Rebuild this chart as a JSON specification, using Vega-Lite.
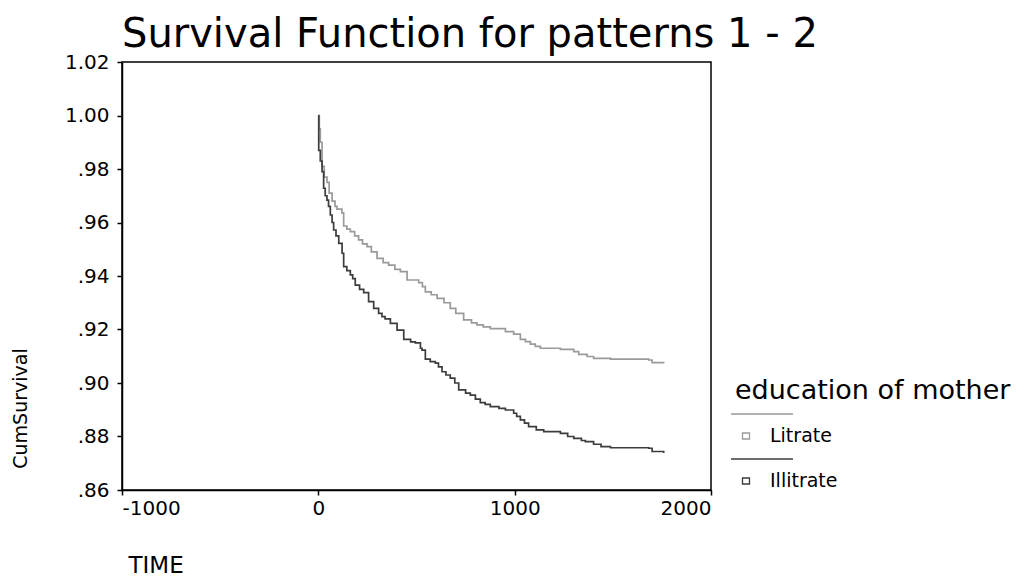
{
  "$schema": "https://vega.github.io/schema/vega-lite/v6.json",
  "width": 589,
  "height": 428,
  "autosize": {"type": "none"},
  "padding": {"left": 122, "top": 62, "right": 315, "bottom": 88},
  "background": "white",
  "title": {
    "text": "Survival Function for patterns 1 - 2",
    "anchor": "start",
    "frame": "group",
    "font": "DejaVu Sans",
    "fontSize": 40,
    "fontWeight": "normal",
    "color": "black",
    "offset": -3
  },
  "config": {
    "view": {"stroke": "black", "strokeWidth": 1.5},
    "axis": {
      "labelFont": "DejaVu Sans",
      "labelFontSize": 20,
      "labelColor": "black",
      "titleFont": "DejaVu Sans",
      "titleFontWeight": "normal",
      "titleColor": "black",
      "domainColor": "black",
      "domainWidth": 1.5,
      "tickColor": "black",
      "tickWidth": 1.5,
      "tickSize": 5,
      "grid": false
    }
  },
  "data": {
    "values": [
      {"time": 0, "surv": 1.0, "group": "Litrate"},
      {"time": 5, "surv": 0.995, "group": "Litrate"},
      {"time": 10, "surv": 0.990, "group": "Litrate"},
      {"time": 19, "surv": 0.981, "group": "Litrate"},
      {"time": 30, "surv": 0.977, "group": "Litrate"},
      {"time": 44, "surv": 0.975, "group": "Litrate"},
      {"time": 55, "surv": 0.971, "group": "Litrate"},
      {"time": 70, "surv": 0.968, "group": "Litrate"},
      {"time": 85, "surv": 0.966, "group": "Litrate"},
      {"time": 95, "surv": 0.965, "group": "Litrate"},
      {"time": 120, "surv": 0.9636, "group": "Litrate"},
      {"time": 129, "surv": 0.9587, "group": "Litrate"},
      {"time": 145, "surv": 0.9575, "group": "Litrate"},
      {"time": 163, "surv": 0.9566, "group": "Litrate"},
      {"time": 185, "surv": 0.955, "group": "Litrate"},
      {"time": 205, "surv": 0.9535, "group": "Litrate"},
      {"time": 225, "surv": 0.952, "group": "Litrate"},
      {"time": 248, "surv": 0.951, "group": "Litrate"},
      {"time": 270, "surv": 0.949, "group": "Litrate"},
      {"time": 299, "surv": 0.9466, "group": "Litrate"},
      {"time": 330, "surv": 0.945, "group": "Litrate"},
      {"time": 358, "surv": 0.9441, "group": "Litrate"},
      {"time": 390, "surv": 0.9425, "group": "Litrate"},
      {"time": 418, "surv": 0.9416, "group": "Litrate"},
      {"time": 452, "surv": 0.9385, "group": "Litrate"},
      {"time": 511, "surv": 0.9375, "group": "Litrate"},
      {"time": 530, "surv": 0.936, "group": "Litrate"},
      {"time": 545, "surv": 0.9341, "group": "Litrate"},
      {"time": 575, "surv": 0.933, "group": "Litrate"},
      {"time": 605, "surv": 0.9316, "group": "Litrate"},
      {"time": 640, "surv": 0.930, "group": "Litrate"},
      {"time": 672, "surv": 0.9279, "group": "Litrate"},
      {"time": 700, "surv": 0.926, "group": "Litrate"},
      {"time": 740, "surv": 0.9236, "group": "Litrate"},
      {"time": 780, "surv": 0.9225, "group": "Litrate"},
      {"time": 808, "surv": 0.9217, "group": "Litrate"},
      {"time": 840, "surv": 0.921, "group": "Litrate"},
      {"time": 876, "surv": 0.9203, "group": "Litrate"},
      {"time": 953, "surv": 0.9192, "group": "Litrate"},
      {"time": 995, "surv": 0.9183, "group": "Litrate"},
      {"time": 1029, "surv": 0.9163, "group": "Litrate"},
      {"time": 1055, "surv": 0.9155, "group": "Litrate"},
      {"time": 1080, "surv": 0.9145, "group": "Litrate"},
      {"time": 1105, "surv": 0.9137, "group": "Litrate"},
      {"time": 1131, "surv": 0.913, "group": "Litrate"},
      {"time": 1233, "surv": 0.9126, "group": "Litrate"},
      {"time": 1301, "surv": 0.9117, "group": "Litrate"},
      {"time": 1326, "surv": 0.9107, "group": "Litrate"},
      {"time": 1369, "surv": 0.9099, "group": "Litrate"},
      {"time": 1402, "surv": 0.9092, "group": "Litrate"},
      {"time": 1488, "surv": 0.9089, "group": "Litrate"},
      {"time": 1683, "surv": 0.9086, "group": "Litrate"},
      {"time": 1700, "surv": 0.9076, "group": "Litrate"},
      {"time": 1759, "surv": 0.9074, "group": "Litrate"},
      {"time": 0, "surv": 1.0, "group": "Illitrate"},
      {"time": 2, "surv": 0.987, "group": "Illitrate"},
      {"time": 10, "surv": 0.983, "group": "Illitrate"},
      {"time": 19, "surv": 0.979, "group": "Illitrate"},
      {"time": 27, "surv": 0.9728, "group": "Illitrate"},
      {"time": 35, "surv": 0.970, "group": "Illitrate"},
      {"time": 44, "surv": 0.9684, "group": "Illitrate"},
      {"time": 52, "surv": 0.966, "group": "Illitrate"},
      {"time": 61, "surv": 0.9628, "group": "Illitrate"},
      {"time": 70, "surv": 0.960, "group": "Illitrate"},
      {"time": 78, "surv": 0.9572, "group": "Illitrate"},
      {"time": 90, "surv": 0.955, "group": "Illitrate"},
      {"time": 104, "surv": 0.9522, "group": "Illitrate"},
      {"time": 121, "surv": 0.9485, "group": "Illitrate"},
      {"time": 129, "surv": 0.9435, "group": "Illitrate"},
      {"time": 145, "surv": 0.942, "group": "Illitrate"},
      {"time": 163, "surv": 0.9404, "group": "Illitrate"},
      {"time": 175, "surv": 0.939, "group": "Illitrate"},
      {"time": 188, "surv": 0.9366, "group": "Illitrate"},
      {"time": 210, "surv": 0.935, "group": "Illitrate"},
      {"time": 231, "surv": 0.9338, "group": "Illitrate"},
      {"time": 256, "surv": 0.9304, "group": "Illitrate"},
      {"time": 282, "surv": 0.9279, "group": "Illitrate"},
      {"time": 307, "surv": 0.926, "group": "Illitrate"},
      {"time": 324, "surv": 0.9248, "group": "Illitrate"},
      {"time": 340, "surv": 0.924, "group": "Illitrate"},
      {"time": 367, "surv": 0.9223, "group": "Illitrate"},
      {"time": 401, "surv": 0.9198, "group": "Illitrate"},
      {"time": 435, "surv": 0.9163, "group": "Illitrate"},
      {"time": 470, "surv": 0.9154, "group": "Illitrate"},
      {"time": 494, "surv": 0.915, "group": "Illitrate"},
      {"time": 520, "surv": 0.913, "group": "Illitrate"},
      {"time": 528, "surv": 0.9123, "group": "Illitrate"},
      {"time": 545, "surv": 0.9089, "group": "Illitrate"},
      {"time": 570, "surv": 0.908, "group": "Illitrate"},
      {"time": 596, "surv": 0.9074, "group": "Illitrate"},
      {"time": 612, "surv": 0.906, "group": "Illitrate"},
      {"time": 630, "surv": 0.9042, "group": "Illitrate"},
      {"time": 650, "surv": 0.903, "group": "Illitrate"},
      {"time": 672, "surv": 0.9018, "group": "Illitrate"},
      {"time": 695, "surv": 0.900, "group": "Illitrate"},
      {"time": 715, "surv": 0.8974, "group": "Illitrate"},
      {"time": 750, "surv": 0.8962, "group": "Illitrate"},
      {"time": 774, "surv": 0.8955, "group": "Illitrate"},
      {"time": 800, "surv": 0.894, "group": "Illitrate"},
      {"time": 825, "surv": 0.8927, "group": "Illitrate"},
      {"time": 850, "surv": 0.892, "group": "Illitrate"},
      {"time": 876, "surv": 0.8912, "group": "Illitrate"},
      {"time": 920, "surv": 0.8905, "group": "Illitrate"},
      {"time": 953, "surv": 0.8899, "group": "Illitrate"},
      {"time": 995, "surv": 0.8887, "group": "Illitrate"},
      {"time": 1010, "surv": 0.8875, "group": "Illitrate"},
      {"time": 1029, "surv": 0.8862, "group": "Illitrate"},
      {"time": 1050, "surv": 0.885, "group": "Illitrate"},
      {"time": 1071, "surv": 0.8837, "group": "Illitrate"},
      {"time": 1110, "surv": 0.8825, "group": "Illitrate"},
      {"time": 1148, "surv": 0.8818, "group": "Illitrate"},
      {"time": 1233, "surv": 0.8812, "group": "Illitrate"},
      {"time": 1270, "surv": 0.880, "group": "Illitrate"},
      {"time": 1301, "surv": 0.8793, "group": "Illitrate"},
      {"time": 1340, "surv": 0.8785, "group": "Illitrate"},
      {"time": 1360, "surv": 0.8781, "group": "Illitrate"},
      {"time": 1402, "surv": 0.8771, "group": "Illitrate"},
      {"time": 1440, "surv": 0.8762, "group": "Illitrate"},
      {"time": 1488, "surv": 0.8758, "group": "Illitrate"},
      {"time": 1683, "surv": 0.8756, "group": "Illitrate"},
      {"time": 1700, "surv": 0.8744, "group": "Illitrate"},
      {"time": 1759, "surv": 0.8738, "group": "Illitrate"}
    ]
  },
  "mark": {"type": "line", "interpolate": "step-after", "strokeWidth": 1.7, "clip": true},
  "encoding": {
    "x": {
      "field": "time",
      "type": "quantitative",
      "scale": {"domain": [-1000, 2000], "nice": false, "zero": false},
      "axis": {
        "values": [-1000, 0, 1000, 2000],
        "labelExpr": "datum.value < 0 ? '-' + format(-datum.value, 'd') : format(datum.value, 'd')",
        "labelPadding": 3,
        "title": "TIME",
        "titleFontSize": 23,
        "titleAnchor": null,
        "titleAlign": "left",
        "titleBaseline": "alphabetic",
        "titleX": 6,
        "titleY": 82
      }
    },
    "y": {
      "field": "surv",
      "type": "quantitative",
      "scale": {"domain": [0.86, 1.02], "nice": false, "zero": false},
      "axis": {
        "values": [0.86, 0.88, 0.9, 0.92, 0.94, 0.96, 0.98, 1.0, 1.02],
        "labelExpr": "datum.value >= 0.999 ? format(datum.value, '.2f') : substring(format(datum.value, '.2f'), 1)",
        "labelPadding": 8,
        "title": "CumSurvival",
        "titleFontSize": 19,
        "titleAngle": -90,
        "titleAnchor": null,
        "titleAlign": "center",
        "titleBaseline": "middle",
        "titleX": -102,
        "titleY": 346
      }
    },
    "color": {
      "field": "group",
      "type": "nominal",
      "scale": {"domain": ["Litrate", "Illitrate"], "range": ["#9a9a9a", "#3c3c3c"]},
      "legend": {
        "title": "education of mother",
        "orient": "none",
        "legendX": 613,
        "legendY": 316,
        "titleFont": "DejaVu Sans",
        "titleFontSize": 27,
        "titleFontWeight": "normal",
        "titleColor": "black",
        "titleLimit": 500,
        "titlePadding": 20,
        "labelFont": "DejaVu Sans",
        "labelFontSize": 19,
        "labelColor": "black",
        "labelOffset": 13,
        "symbolType": "M-1.5,-2.2H4.7M-0.35,-0.3H0.35V0.3H-0.35Z",
        "symbolSize": 400,
        "symbolStrokeWidth": 1.3,
        "symbolFillColor": "transparent",
        "rowPadding": 10
      }
    }
  }
}
